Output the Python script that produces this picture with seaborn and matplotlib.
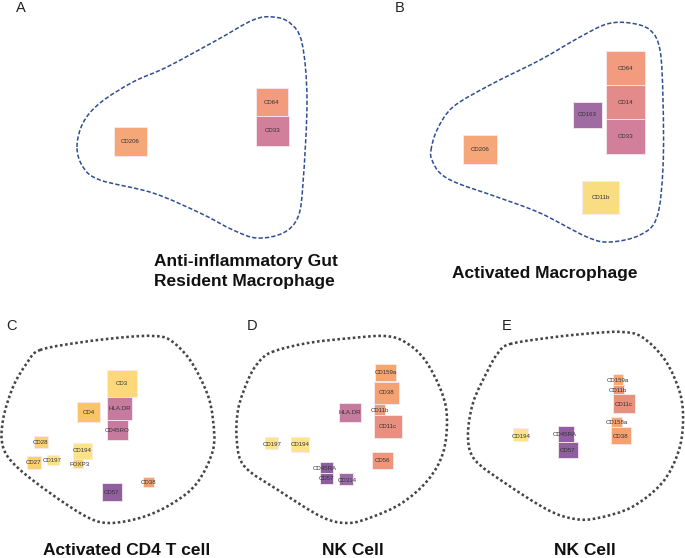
import numpy as np
import pandas as pd
import matplotlib
matplotlib.use("Agg")
import matplotlib.pyplot as plt
from matplotlib.patches import Rectangle, PathPatch
from matplotlib.path import Path
import seaborn as sns

# canvas is laid out in pixel units (685 x 558), y grows downwards

# ---- cell outlines (points the outline passes through) ----
outline_a = [(77, 147), (83, 123), (100, 103), (133, 82), (167, 67), (217, 40), (253, 20),
             (273, 17), (290, 23), (302, 43), (307, 100), (303, 183), (298, 217), (283, 233),
             (257, 238), (233, 230), (200, 213), (153, 193), (100, 180), (83, 167)]
outline_b = [(431, 150), (437, 130), (453, 107), (490, 85), (540, 60), (580, 37), (607, 24),
             (630, 23), (650, 30), (660, 50), (663, 100), (663, 167), (657, 217), (640, 235),
             (610, 242), (587, 237), (540, 213), (497, 197), (457, 183), (440, 173), (432, 160)]
outline_c = [(40, 350), (83, 342), (127, 337), (153, 336), (170, 340), (190, 360), (207, 393),
             (213, 420), (213, 450), (197, 483), (173, 503), (143, 517), (110, 523), (87, 517),
             (50, 493), (17, 467), (3, 447), (3, 420), (13, 387), (27, 363)]
outline_d = [(272, 352), (308, 343), (352, 338), (385, 336), (405, 342), (425, 360), (442, 393),
             (447, 420), (443, 453), (428, 480), (402, 503), (372, 517), (348, 523), (322, 517),
             (278, 490), (245, 467), (237, 443), (238, 410), (248, 380), (258, 363)]
outline_e = [(510, 344), (555, 337), (595, 333), (622, 332), (642, 337), (665, 360), (680, 393),
             (683, 423), (678, 453), (662, 483), (632, 507), (598, 518), (575, 519), (548, 510),
             (505, 483), (475, 460), (468, 437), (473, 403), (488, 370), (498, 353)]

# ---- marker boxes: name, box edges, colour, label position (None = box centre) ----
a_names = ["CD206", "CD64", "CD33"]
a_x0 = [114, 256, 256]
a_x1 = [147, 288, 289]
a_y0 = [127, 88, 116]
a_y1 = [156, 116, 146]
a_cols = ["#f5a77a", "#f29b7e", "#d17f9b"]

b_names = ["CD64", "CD14", "CD33", "CD163", "CD206", "CD11b"]
b_x0 = [606, 606, 606, 573, 463, 582]
b_x1 = [645, 645, 645, 602, 497, 619]
b_y0 = [51, 85, 119, 102, 135, 181]
b_y1 = [85, 119, 154, 128, 164, 214]
b_cols = ["#f29b7e", "#e38a8a", "#d17f9b", "#a06ba2", "#f5a77a", "#f9dd82"]

c_names = ["CD3", "HLA.DR", "CD45RO", "CD4", "CD28", "CD194", "FOXP3", "CD27", "CD197", "CD57", "CD38"]
c_x0 = [107, 107, 107, 77, 34, 73, 73, 27, 47, 102, 143]
c_x1 = [137, 132, 128, 100, 48, 92, 83, 41, 59, 122, 154]
c_y0 = [370, 397, 420, 402, 436, 443, 459, 456, 455, 483, 477]
c_y1 = [397, 420, 440, 422, 448, 459, 468, 469, 465, 501, 487]
c_cols = ["#fdd87a", "#c67b9e", "#c67b9e", "#f9c465", "#f9d273", "#fde28a", "#f9d273",
          "#f9d06e", "#fde38a", "#8f5f9f", "#f5a070"]
c_lx = [None, None, None, None, None, None, 80, None, 52, None, None]
c_ly = [None, None, None, None, None, None, 464, None, 460, None, None]

d_names = ["CD159a", "CD38", "CD11b", "CD11c", "HLA.DR", "CD197", "CD194", "CD56", "CD45RA", "CD57", "CD314"]
d_x0 = [375, 374, 374, 374, 339, 265, 291, 372, 320, 320, 339]
d_x1 = [396, 399, 385, 402, 361, 278, 309, 393, 333, 333, 353]
d_y0 = [364, 382, 404, 415, 403, 437, 437, 452, 462, 473, 473]
d_y1 = [381, 404, 415, 438, 422, 449, 452, 469, 473, 484, 485]
d_cols = ["#f6a56f", "#f4a272", "#f09a78", "#e98f7f", "#c67b9e", "#fde38a", "#fde38a",
          "#ef9579", "#8c5e9e", "#8c5e9e", "#9c6aa6"]
d_lx = [None, None, 380, None, None, 272, None, None, 325, 327, 347]
d_ly = [None, None, 410, None, None, 444, None, None, 468, 479, 480]

e_names = ["CD159a", "CD11b", "CD11c", "CD158a", "CD38", "CD194", "CD45RA", "CD57"]
e_x0 = [613, 613, 613, 611, 611, 513, 558, 558]
e_x1 = [623, 624, 635, 622, 631, 528, 574, 578]
e_y0 = [374, 385, 394, 417, 427, 428, 426, 442]
e_y1 = [385, 394, 413, 427, 444, 441, 442, 458]
e_cols = ["#f8a870", "#ee9878", "#e8907e", "#f6a56f", "#f5a070", "#fde38a", "#915ea3", "#8f5f9f"]
e_lx = [618, 618, 624, 617, 621, 521, 565, 568]
e_ly = [380, 390, 404, 422, 437, 436, 435, 451]

panel_letters = ["A", "B", "C", "D", "E"]
letter_x = [21, 400, 12, 252, 507]
letter_y = [8, 8, 326, 326, 326]


def smooth_outline(pts):
    # closed Catmull-Rom curve handed to matplotlib as cubic bezier segments
    p = np.asarray(pts, float)
    n = len(p)
    verts = [p[0]]
    codes = [Path.MOVETO]
    for i in range(n):
        p0, p1, p2, p3 = p[i - 1], p[i], p[(i + 1) % n], p[(i + 2) % n]
        verts += [p1 + (p2 - p0) / 6, p2 - (p3 - p1) / 6, p2]
        codes += [Path.CURVE4] * 3
    return Path(verts, codes)


def draw_boxes(ax, names, x0, x1, y0, y1, cols, lx=None, ly=None):
    df = pd.DataFrame(dict(name=names, x0=x0, x1=x1, y0=y0, y1=y1, col=cols))
    for i, r in df.iterrows():
        ax.add_patch(Rectangle((r.x0, r.y0), r.x1 - r.x0, r.y1 - r.y0,
                               facecolor=r.col, edgecolor="#f7eaf0", linewidth=0.6, zorder=2))
    for i, r in df.iterrows():
        tx = (r.x0 + r.x1) / 2 if lx is None or lx[i] is None else lx[i]
        ty = (r.y0 + r.y1) / 2 if ly is None or ly[i] is None else ly[i]
        ax.text(tx, ty, r["name"], fontsize=4.4, color="#333333", ha="center", va="center", zorder=3)


sns.set_theme(style="white")
plt.rcParams['font.family'] = ['Liberation Sans', 'DejaVu Sans']

fig = plt.figure(figsize=(6.85, 5.58), dpi=100)
ax = fig.add_axes([0, 0, 1, 1])
ax.set_xlim(0, 685)
ax.set_ylim(558, 0)
ax.axis('off')

for pts in [outline_a, outline_b]:
    ax.add_patch(PathPatch(smooth_outline(pts), facecolor="none", edgecolor="#2e4e92",
                           linewidth=1.1, linestyle=(0, (2.8, 1.4)), zorder=1))
for pts in [outline_c, outline_d, outline_e]:
    ax.add_patch(PathPatch(smooth_outline(pts), facecolor="none", edgecolor="#454545",
                           linewidth=1.85, linestyle=(0, (1.0, 1.0)), capstyle="butt", zorder=1))

draw_boxes(ax, a_names, a_x0, a_x1, a_y0, a_y1, a_cols)
draw_boxes(ax, b_names, b_x0, b_x1, b_y0, b_y1, b_cols)
draw_boxes(ax, c_names, c_x0, c_x1, c_y0, c_y1, c_cols, c_lx, c_ly)
draw_boxes(ax, d_names, d_x0, d_x1, d_y0, d_y1, d_cols, d_lx, d_ly)
draw_boxes(ax, e_names, e_x0, e_x1, e_y0, e_y1, e_cols, e_lx, e_ly)

for letter, lx, ly in zip(panel_letters, letter_x, letter_y):
    ax.text(lx, ly, letter, fontsize=10.5, color="#222222", ha="center", va="center")

title_kw = dict(fontsize=12.5, fontweight="bold", color="#111111", va="baseline")
ax.text(154, 266, "Anti-inflammatory Gut", ha="left", **title_kw)
ax.text(154, 286, "Resident Macrophage", ha="left", **title_kw)
ax.text(452, 278, "Activated Macrophage", ha="left", **title_kw)
ax.text(43, 555, "Activated CD4 T cell", ha="left", **title_kw)
ax.text(353, 555, "NK Cell", ha="center", **title_kw)
ax.text(585, 555, "NK Cell", ha="center", **title_kw)

fig.savefig("out.png", dpi=100)
